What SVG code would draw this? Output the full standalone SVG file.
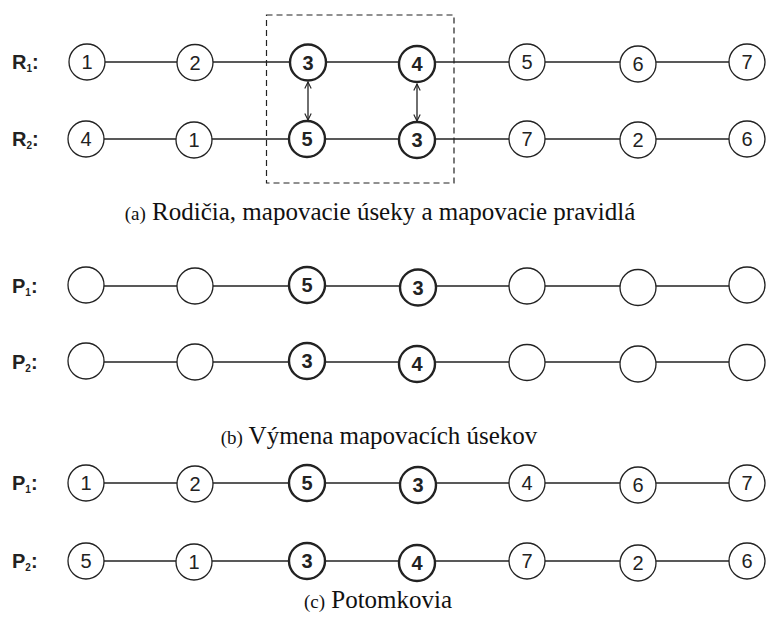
<svg xmlns="http://www.w3.org/2000/svg" width="766" height="623" viewBox="0 0 766 623">
  <defs>
    <style>
      .n { fill: #fff; stroke: #222; stroke-width: 1.3; }
      .b { fill: #fff; stroke: #222; stroke-width: 2.4; }
      .t { font-family: "Liberation Sans", Arial, sans-serif; font-size: 20px; fill: #222; text-anchor: middle; }
      .tb { font-family: "Liberation Sans", Arial, sans-serif; font-size: 20px; font-weight: bold; fill: #222; text-anchor: middle; }
      .lbl { font-family: "Liberation Sans", Arial, sans-serif; font-size: 20px; font-weight: bold; fill: #222; }
      .cap { font-family: "Liberation Serif", "Times New Roman", serif; font-size: 25px; fill: #111; text-anchor: middle; }
      .edge { stroke: #222; stroke-width: 1.4; fill: none; }
      .swap { stroke: #222; stroke-width: 1.3; fill: none; marker-start: url(#head); marker-end: url(#head); }
      .box { stroke: #222; stroke-width: 1.2; fill: none; stroke-dasharray: 6 4; }
    </style>
    <marker id="head" viewBox="0 0 10 10" refX="9" refY="5" markerWidth="8" markerHeight="8" markerUnits="userSpaceOnUse" orient="auto-start-reverse">
      <path d="M1,1 L9,5 L1,9" fill="none" stroke="#222" stroke-width="1.4"/>
    </marker>
  </defs>

  <!-- row connectors -->
  <g id="connectors">
    <line class="edge" x1="87" y1="62" x2="746" y2="62"/>
    <line class="edge" x1="87" y1="139" x2="746" y2="139"/>
    <line class="edge" x1="87" y1="286" x2="746" y2="286"/>
    <line class="edge" x1="87" y1="362" x2="746" y2="362"/>
    <line class="edge" x1="87" y1="483" x2="746" y2="483"/>
    <line class="edge" x1="87" y1="561" x2="746" y2="561"/>
    <line class="swap" x1="308" y1="82" x2="308" y2="120"/>
    <line class="swap" x1="417" y1="84" x2="417" y2="121"/>
  </g>

  <!-- mapping section frame -->
  <rect class="box" x="266.5" y="15" width="187.5" height="168"/>

  <!-- row labels -->
  <g id="labels">
    <text class="lbl" x="12" y="69">R<tspan font-size="10" dy="3">1</tspan><tspan dy="-3">:</tspan></text>
    <text class="lbl" x="12" y="146">R<tspan font-size="10" dy="3">2</tspan><tspan dy="-3">:</tspan></text>
    <text class="lbl" x="12" y="293">P<tspan font-size="10" dy="3">1</tspan><tspan dy="-3">:</tspan></text>
    <text class="lbl" x="12" y="369">P<tspan font-size="10" dy="3">2</tspan><tspan dy="-3">:</tspan></text>
    <text class="lbl" x="12" y="490">P<tspan font-size="10" dy="3">1</tspan><tspan dy="-3">:</tspan></text>
    <text class="lbl" x="12" y="568">P<tspan font-size="10" dy="3">2</tspan><tspan dy="-3">:</tspan></text>
  </g>

  <!-- parent R1 -->
  <g id="r1-1"><circle class="n" cx="87" cy="62" r="18"/><text class="t" x="87" y="69">1</text></g>
  <g id="r1-2"><circle class="n" cx="195" cy="62.5" r="18"/><text class="t" x="195" y="69.5">2</text></g>
  <g id="r1-3"><circle class="b" cx="308" cy="62.5" r="18"/><text class="tb" x="308" y="69.5">3</text></g>
  <g id="r1-4"><circle class="b" cx="417" cy="64" r="18"/><text class="tb" x="417" y="71">4</text></g>
  <g id="r1-5"><circle class="n" cx="527" cy="62" r="18"/><text class="t" x="527" y="69">5</text></g>
  <g id="r1-6"><circle class="n" cx="638" cy="64" r="18"/><text class="t" x="638" y="71">6</text></g>
  <g id="r1-7"><circle class="n" cx="747" cy="62" r="18"/><text class="t" x="747" y="69">7</text></g>

  <!-- parent R2 -->
  <g id="r2-1"><circle class="n" cx="86" cy="139" r="18"/><text class="t" x="86" y="146">4</text></g>
  <g id="r2-2"><circle class="n" cx="194" cy="140" r="18"/><text class="t" x="194" y="147">1</text></g>
  <g id="r2-3"><circle class="b" cx="307" cy="139" r="18"/><text class="tb" x="307" y="146">5</text></g>
  <g id="r2-4"><circle class="b" cx="417" cy="140" r="18"/><text class="tb" x="417" y="147">3</text></g>
  <g id="r2-5"><circle class="n" cx="527" cy="139" r="18"/><text class="t" x="527" y="146">7</text></g>
  <g id="r2-6"><circle class="n" cx="638" cy="140" r="18"/><text class="t" x="638" y="147">2</text></g>
  <g id="r2-7"><circle class="n" cx="747" cy="139" r="18"/><text class="t" x="747" y="146">6</text></g>

  <text class="cap" x="380" y="220"><tspan font-size="19">(a)</tspan> Rodičia, mapovacie úseky a mapovacie pravidlá</text>

  <!-- offspring after segment exchange -->
  <g id="pb1-1"><circle class="n" cx="86" cy="285" r="18"/></g>
  <g id="pb1-2"><circle class="n" cx="195" cy="286" r="18"/></g>
  <g id="pb1-3"><circle class="b" cx="307" cy="285" r="18"/><text class="tb" x="307" y="292">5</text></g>
  <g id="pb1-4"><circle class="b" cx="418" cy="287.5" r="18"/><text class="tb" x="418" y="294.5">3</text></g>
  <g id="pb1-5"><circle class="n" cx="527" cy="286" r="18"/></g>
  <g id="pb1-6"><circle class="n" cx="638" cy="287.5" r="18"/></g>
  <g id="pb1-7"><circle class="n" cx="747" cy="285" r="18"/></g>

  <g id="pb2-1"><circle class="n" cx="86" cy="361" r="18"/></g>
  <g id="pb2-2"><circle class="n" cx="195" cy="362" r="18"/></g>
  <g id="pb2-3"><circle class="b" cx="307" cy="361" r="18"/><text class="tb" x="307" y="368">3</text></g>
  <g id="pb2-4"><circle class="b" cx="417" cy="364" r="18"/><text class="tb" x="417" y="371">4</text></g>
  <g id="pb2-5"><circle class="n" cx="527" cy="362.5" r="18"/></g>
  <g id="pb2-6"><circle class="n" cx="638" cy="364" r="18"/></g>
  <g id="pb2-7"><circle class="n" cx="747" cy="362.5" r="18"/></g>

  <text class="cap" x="379" y="444"><tspan font-size="19">(b)</tspan> Výmena mapovacích úsekov</text>

  <!-- offspring P1 -->
  <g id="pc1-1"><circle class="n" cx="86" cy="483" r="18"/><text class="t" x="86" y="490">1</text></g>
  <g id="pc1-2"><circle class="n" cx="195" cy="484" r="18"/><text class="t" x="195" y="491">2</text></g>
  <g id="pc1-3"><circle class="b" cx="307" cy="483" r="18"/><text class="tb" x="307" y="490">5</text></g>
  <g id="pc1-4"><circle class="b" cx="418" cy="485" r="18"/><text class="tb" x="418" y="492">3</text></g>
  <g id="pc1-5"><circle class="n" cx="527" cy="483" r="18"/><text class="t" x="527" y="490">4</text></g>
  <g id="pc1-6"><circle class="n" cx="638" cy="485" r="18"/><text class="t" x="638" y="492">6</text></g>
  <g id="pc1-7"><circle class="n" cx="747" cy="483" r="18"/><text class="t" x="747" y="490">7</text></g>

  <!-- offspring P2 -->
  <g id="pc2-1"><circle class="n" cx="86" cy="561" r="18"/><text class="t" x="86" y="568">5</text></g>
  <g id="pc2-2"><circle class="n" cx="194" cy="562" r="18"/><text class="t" x="194" y="569">1</text></g>
  <g id="pc2-3"><circle class="b" cx="307" cy="561" r="18"/><text class="tb" x="307" y="568">3</text></g>
  <g id="pc2-4"><circle class="b" cx="417" cy="563" r="18"/><text class="tb" x="417" y="570">4</text></g>
  <g id="pc2-5"><circle class="n" cx="527" cy="561" r="18"/><text class="t" x="527" y="568">7</text></g>
  <g id="pc2-6"><circle class="n" cx="638" cy="563" r="18"/><text class="t" x="638" y="570">2</text></g>
  <g id="pc2-7"><circle class="n" cx="747" cy="561" r="18"/><text class="t" x="747" y="568">6</text></g>

  <text class="cap" x="378" y="608"><tspan font-size="19">(c)</tspan> Potomkovia</text>
</svg>
